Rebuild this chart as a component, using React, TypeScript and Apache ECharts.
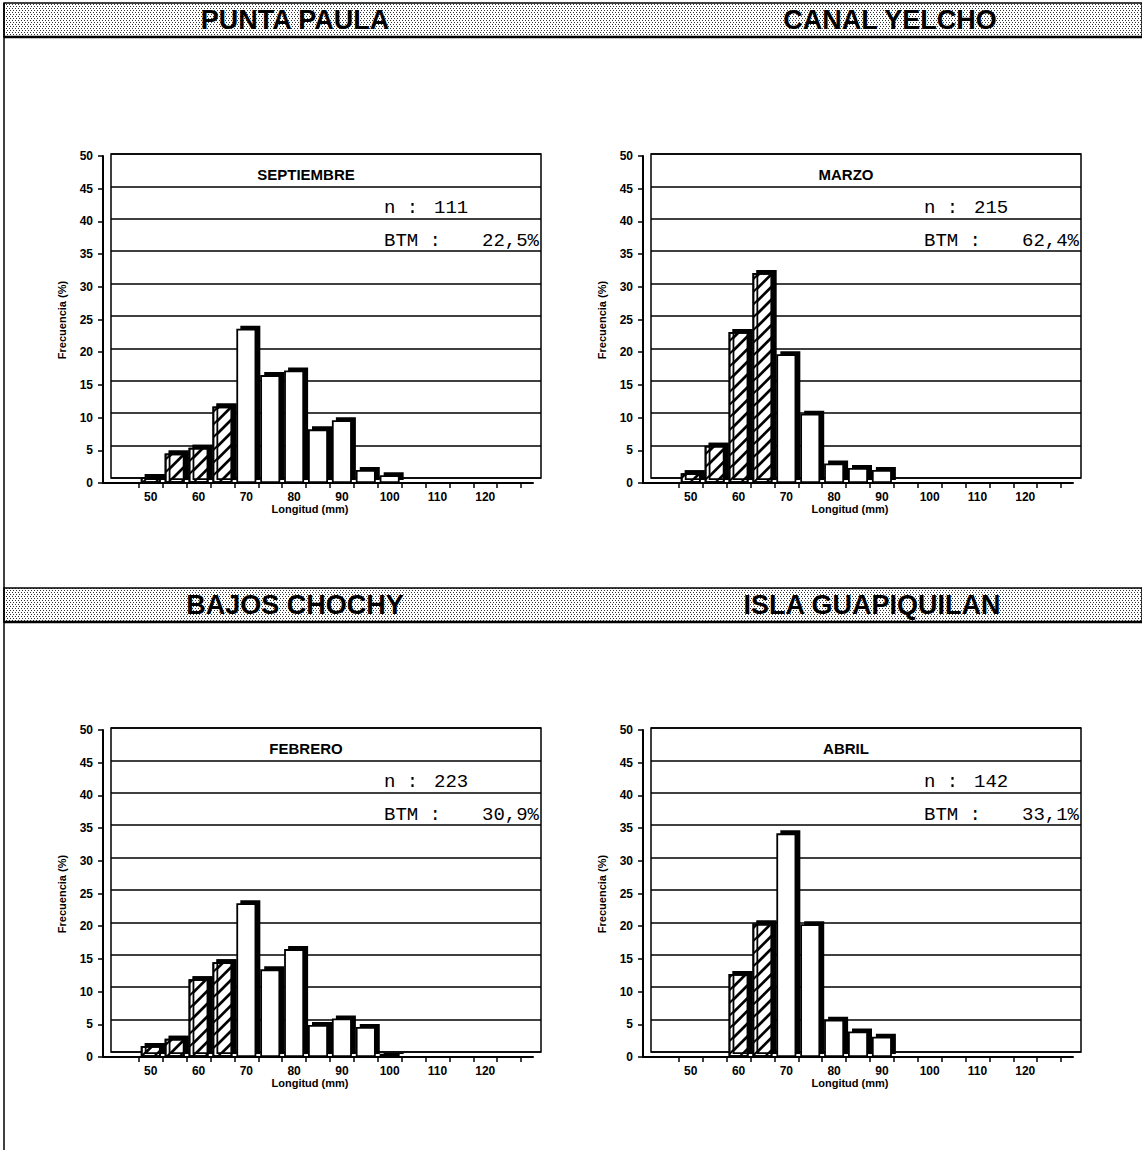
import React, { useEffect, useRef } from "react";
import * as echarts from "echarts";

// ---------------- data ----------------
const LENGTHS = [50, 55, 60, 65, 70, 75, 80, 85, 90, 95, 100];
const MIN_LEGAL_SIZE = 70; // bars below this length are hatched (BTM)
const X_LABELS = [50, 60, 70, 80, 90, 100, 110, 120];
const X_TICKS = [47.5, 52.5, 57.5, 62.5, 67.5, 72.5, 77.5, 82.5, 87.5, 92.5, 97.5, 102.5, 107.5, 112.5, 117.5, 122.5, 127.5];

const SITES = ["PUNTA PAULA", "CANAL YELCHO", "BAJOS CHOCHY", "ISLA GUAPIQUILAN"];
const MONTHS = ["SEPTIEMBRE", "MARZO", "FEBRERO", "ABRIL"];
const N_VALUES = ["111", "215", "223", "142"];
const BTM_VALUES = ["22,5%", "62,4%", "30,9%", "33,1%"];

const septiembreFreq = [0.9, 4.5, 5.4, 11.7, 23.6, 16.5, 17.2, 8.2, 9.6, 2.0, 1.2];
const marzoFreq = [1.5, 5.7, 23.1, 32.1, 19.7, 10.6, 3.0, 2.3, 2.0, 0, 0];
const febreroFreq = [1.7, 2.8, 11.9, 14.5, 23.5, 13.4, 16.5, 4.9, 5.9, 4.6, 0.5];
const abrilFreq = [0, 0, 12.7, 20.4, 34.2, 20.3, 5.7, 3.9, 3.1, 0, 0];

const PANEL_FREQS = [septiembreFreq, marzoFreq, febreroFreq, abrilFreq];

// ---------------- layout ----------------
const W = 1142;
const H = 1157;
const OFFSETS = [
  [0, 0],
  [540, 0],
  [0, 574],
  [540, 574],
];
const NARROW = "'Liberation Sans Narrow', 'Arial Narrow', 'Liberation Sans', Arial, sans-serif";
const MONO = "'Liberation Mono', 'DejaVu Sans Mono', monospace";

function makeDotPattern() {
  const c = document.createElement("canvas");
  c.width = 6;
  c.height = 4;
  const ctx = c.getContext("2d");
  if (ctx) {
    ctx.fillStyle = "#ffffff";
    ctx.fillRect(0, 0, 6, 4);
    ctx.fillStyle = "#333333";
    [
      [0, 0],
      [3, 0],
      [1, 2],
      [4, 2],
    ].forEach(([x, y]) => ctx.fillRect(x, y, 1, 1));
  }
  return { image: c, repeat: "repeat", imageWidth: 6, imageHeight: 4 };
}

function buildOption() {
  const grid: any[] = [];
  const xAxis: any[] = [];
  const yAxis: any[] = [];
  const series: any[] = [];
  const graphic: any[] = [];

  const hatch = {
    symbol: "rect",
    symbolSize: 1,
    color: "#000",
    dashArrayX: [1, 0],
    dashArrayY: [1.5, 7],
    rotation: -Math.PI / 4,
  };

  const barStyle = {
    color: "#ffffff",
    borderColor: "#000",
    borderWidth: 1.8,
    shadowColor: "#000",
    shadowOffsetX: 4,
    shadowOffsetY: -3,
    shadowBlur: 0,
  };

  PANEL_FREQS.forEach((freqs, i) => {
    const [dx, dy] = OFFSETS[i];
    const back = 2 * i;
    const front = 2 * i + 1;

    // back wall (gridlines + frame)
    grid.push({
      left: 111 + dx,
      top: 154 + dy,
      width: 430,
      height: 324,
      show: true,
      borderColor: "#000",
      borderWidth: 1.5,
      backgroundColor: "transparent",
    });
    xAxis.push({ gridIndex: back, type: "value", min: 40, max: 130, show: false });
    yAxis.push({
      gridIndex: back,
      type: "value",
      min: 0,
      max: 50,
      interval: 5,
      axisLine: { show: false },
      axisTick: { show: false },
      axisLabel: { show: false },
      splitLine: { show: true, lineStyle: { color: "#000", width: 1.5 } },
    });

    // front axes + bars
    grid.push({ left: 103 + dx, top: 156 + dy, width: 430, height: 327 });
    xAxis.push({
      gridIndex: front,
      type: "value",
      min: 40,
      max: 130,
      axisLine: { show: true, onZero: false, lineStyle: { color: "#000", width: 2 } },
      axisTick: { show: true, customValues: X_TICKS, length: 5, lineStyle: { color: "#000", width: 1.5 } },
      axisLabel: {
        customValues: X_LABELS,
        color: "#000",
        fontWeight: "bold",
        fontSize: 12,
        fontFamily: NARROW,
        margin: 8,
      },
      splitLine: { show: false },
    });
    yAxis.push({
      gridIndex: front,
      type: "value",
      min: 0,
      max: 50,
      interval: 5,
      axisLine: { show: true, lineStyle: { color: "#000", width: 2 } },
      axisTick: { show: true, length: 5, lineStyle: { color: "#000", width: 1.5 } },
      axisLabel: { color: "#000", fontWeight: "bold", fontSize: 12, fontFamily: NARROW, margin: 10 },
      splitLine: { show: false },
    });

    const btmData: any[] = [];
    const restData: any[] = [];
    LENGTHS.forEach((len, k) => {
      const v = freqs[k];
      if (!v) return;
      if (len < MIN_LEGAL_SIZE) btmData.push([len, v]);
      else restData.push([len, v]);
    });

    series.push({
      type: "bar",
      name: "BTM " + i,
      xAxisIndex: front,
      yAxisIndex: front,
      stack: "p" + i,
      barWidth: 20,
      data: btmData,
      itemStyle: { ...barStyle, decal: hatch },
      silent: true,
    });
    series.push({
      type: "bar",
      name: "Resto " + i,
      xAxisIndex: front,
      yAxisIndex: front,
      stack: "p" + i,
      barWidth: 20,
      data: restData,
      itemStyle: { ...barStyle },
      silent: true,
    });

    // panel texts
    graphic.push({
      type: "text",
      x: 306 + dx,
      y: 174 + dy,
      style: {
        text: MONTHS[i],
        fill: "#000",
        font: `bold 15px ${NARROW}`,
        align: "center",
        verticalAlign: "middle",
      },
    });
    graphic.push({
      type: "text",
      x: 384 + dx,
      y: 217 + dy,
      style: { text: "n :", fill: "#000", font: `19px ${MONO}`, align: "left", verticalAlign: "bottom" },
    });
    graphic.push({
      type: "text",
      x: 434 + dx,
      y: 217 + dy,
      style: { text: N_VALUES[i], fill: "#000", font: `19px ${MONO}`, align: "left", verticalAlign: "bottom" },
    });
    graphic.push({
      type: "text",
      x: 384 + dx,
      y: 250 + dy,
      style: { text: "BTM :", fill: "#000", font: `19px ${MONO}`, align: "left", verticalAlign: "bottom" },
    });
    graphic.push({
      type: "text",
      x: 539 + dx,
      y: 250 + dy,
      style: { text: BTM_VALUES[i], fill: "#000", font: `19px ${MONO}`, align: "right", verticalAlign: "bottom" },
    });
    graphic.push({
      type: "text",
      x: 62 + dx,
      y: 320 + dy,
      rotation: Math.PI / 2,
      style: {
        text: "Frecuencia (%)",
        fill: "#000",
        font: `bold 11px ${NARROW}`,
        align: "center",
        verticalAlign: "middle",
      },
    });
    graphic.push({
      type: "text",
      x: 310 + dx,
      y: 509 + dy,
      style: {
        text: "Longitud (mm)",
        fill: "#000",
        font: `bold 11px ${NARROW}`,
        align: "center",
        verticalAlign: "middle",
      },
    });
  });

  // banners
  const dots = makeDotPattern();
  [
    [3, 34],
    [588, 34],
  ].forEach(([top, h]) => {
    graphic.push({
      type: "rect",
      shape: { x: 4, y: top, width: W - 4, height: h },
      style: { fill: dots as any, stroke: "#000", lineWidth: 1.5 },
      z: 0,
    });
    graphic.push({
      type: "line",
      shape: { x1: 4, y1: top + h, x2: W, y2: top + h },
      style: { stroke: "#000", lineWidth: 2.5 },
    });
  });
  // left border line
  graphic.push({
    type: "line",
    shape: { x1: 4, y1: 3, x2: 4, y2: 1150 },
    style: { stroke: "#000", lineWidth: 1.5 },
  });
  // site names
  const siteCenters = [
    [295, 20],
    [890, 20],
    [295, 605],
    [872, 605],
  ];
  SITES.forEach((s, i) => {
    graphic.push({
      type: "text",
      x: siteCenters[i][0],
      y: siteCenters[i][1],
      style: {
        text: s,
        fill: "#000",
        font: `bold 27px ${NARROW}`,
        align: "center",
        verticalAlign: "middle",
      },
      z: 10,
    });
  });

  return {
    animation: false,
    backgroundColor: "#ffffff",
    grid,
    xAxis,
    yAxis,
    series,
    graphic,
  };
}

export default function App() {
  const ref = useRef<HTMLDivElement>(null);
  useEffect(() => {
    if (!ref.current) return;
    const chart = echarts.init(ref.current, undefined, { renderer: "svg", width: W, height: H });
    chart.setOption(buildOption() as any);
    return () => chart.dispose();
  }, []);
  return (
    <div
      ref={ref}
      style={{ position: "absolute", left: 0, top: 0, width: W, height: H, background: "#fff" }}
    />
  );
}
